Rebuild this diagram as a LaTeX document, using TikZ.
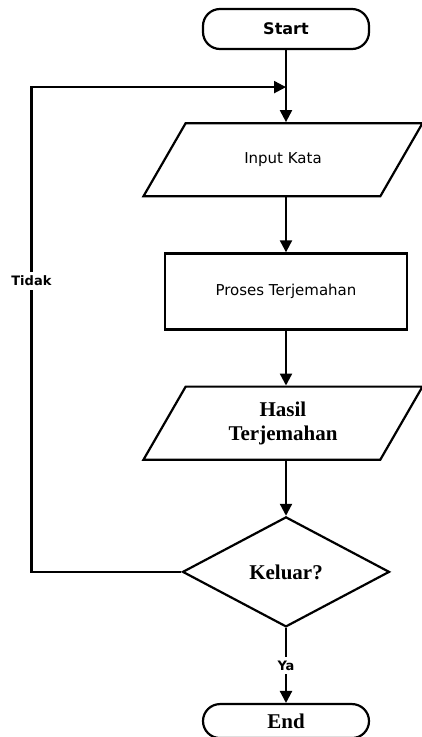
\documentclass[tikz,border=0pt]{standalone}
\usepackage{fontspec}
\setmainfont{Liberation Serif}
\newfontfamily\flowsans{DejaVu Sans}
\usepackage{tikz}
\usetikzlibrary{arrows.meta,positioning,shapes.geometric}
\tikzset{
  fterm/.style  = {draw, line width=2.2pt, rounded corners=17pt, minimum width=166pt,
                   minimum height=40pt, inner sep=0pt},
  fio/.style    = {draw, line width=2.2pt, trapezium, trapezium left angle=60,
                   trapezium right angle=120, trapezium stretches body,
                   minimum width=279pt, inner xsep=2pt, align=center},
  fproc/.style  = {draw, line width=2.2pt, minimum width=242pt, minimum height=76pt,
                   inner sep=2pt},
  fdec/.style   = {draw, line width=2.2pt, diamond, minimum width=207pt,
                   minimum height=110pt, inner sep=0pt},
  flow/.style   = {-{Triangle[length=12pt,width=12pt]}, line width=2.2pt},
  flabel/.style = {fill=white, inner xsep=1pt, inner ysep=4pt,
                   font=\flowsans\bfseries\fontsize{13}{15}\selectfont},
  bigserif/.style = {font=\bfseries\fontsize{21}{24}\selectfont},
  smallsans/.style = {font=\flowsans\fontsize{15}{18}\selectfont},
}
\begin{document}
\begin{tikzpicture}
\useasboundingbox (0,0) rectangle (422pt,-737pt);

% ---------------- the main column -------------------------------------
\node[fterm, font=\flowsans\bfseries\fontsize{16}{19}\selectfont] (start) at (286pt,-29pt) {Start};

\node[fio, smallsans, text height=11pt, text depth=3pt, inner ysep=29.5pt,
      below=72pt of start, xshift=-3pt] (input) {Input Kata};

\node[fproc, smallsans, below=55pt of input, xshift=3pt] (proses) {Proses Terjemahan};

\node[fio, bigserif, inner ysep=15pt, below=55pt of proses, xshift=-3pt] (hasil) {Hasil\\Terjemahan};

\node[fdec, bigserif, below=55pt of hasil, xshift=3pt] (keluar) {Keluar?};

\node[fterm, bigserif, minimum height=34pt, below=75pt of keluar] (end) {End};

\coordinate[below=37pt of start] (join);

\draw[flow] (start) -- (input.north -| start);
\draw[flow] (input.south -| start) -- (proses);
\draw[flow] (proses) -- (hasil.north -| proses);
\draw[flow] (hasil.south -| keluar) -- (keluar);

\draw[flow] (keluar) -- node[flabel] {Ya} (end);

% ---------------- loop back -------------------------------------------
\draw[flow] (keluar.west) -- ++(-150pt,0) |- node[flabel, pos=0.3] {Tidak} (join);

\end{tikzpicture}
\end{document}
